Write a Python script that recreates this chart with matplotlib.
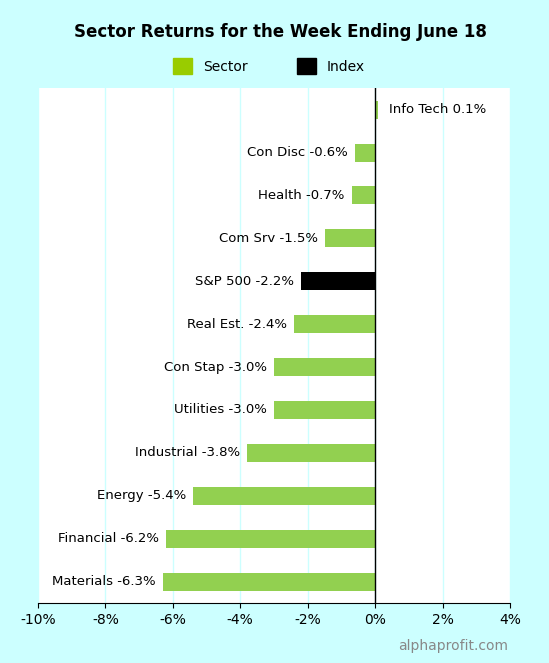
import numpy as np
from matplotlib import pyplot as plt
from matplotlib.patches import Patch

# data, bottom to top
names = ["Materials", "Financial", "Energy", "Industrial", "Utilities", "Con Stap",
         "Real Est.", "S&P 500", "Com Srv", "Health", "Con Disc", "Info Tech"]
returns = [-6.3, -6.2, -5.4, -3.8, -3.0, -3.0, -2.4, -2.2, -1.5, -0.7, -0.6, 0.1]
kinds = ["Sector"] * 7 + ["Index"] + ["Sector"] * 4

green, black = "#92d050", "#000000"
bg = "#ccffff"

fig = plt.figure(figsize=(5.49, 6.63), dpi=100, facecolor=bg)
ax = fig.add_axes([0.069, 0.0905, 0.86, 0.7765])
ax.set_facecolor("white")

y = np.arange(len(names))
colors = [black if k == "Index" else green for k in kinds]
ax.barh(y, returns, height=0.42, color=colors, zorder=3)

for yi, n, v in zip(y, names, returns):
    txt = f"{n} {v:.1f}%"
    if v < 0:
        ax.text(v - 0.2, yi, txt, ha="right", va="center", fontsize=9.5, zorder=4)
    else:
        ax.text(v + 0.3, yi, txt, ha="left", va="center", fontsize=9.5, zorder=4)

ax.axvline(0, color="black", lw=1, zorder=4)
ax.set_xlim(-10, 4)
ax.set_ylim(-0.5, len(names) - 0.5)
ax.set_xticks(np.arange(-10, 5, 2))
ax.set_xticklabels([f"{t}%" for t in range(-10, 5, 2)], fontsize=10)
ax.set_yticks([])
ax.grid(axis="x", color=bg, lw=1, zorder=0)
for s in ["top", "right", "left"]:
    ax.spines[s].set_visible(False)
ax.spines["bottom"].set_color("black")

fig.text(0.51, 0.952, "Sector Returns for the Week Ending June 18", ha="center",
         va="center", fontsize=12, fontweight="bold")
handles = [Patch(color="#99cc00", label="Sector"), Patch(color=black, label="Index")]
fig.legend(handles=handles, loc="center", bbox_to_anchor=(0.49, 0.9), ncol=2,
           frameon=False, fontsize=10, handlelength=1.4, handleheight=1.4,
           columnspacing=3.5)
fig.text(0.925, 0.025, "alphaprofit.com", ha="right", va="center", fontsize=10,
         color="#888888")

fig.savefig("out.png", dpi=100, facecolor=bg)
